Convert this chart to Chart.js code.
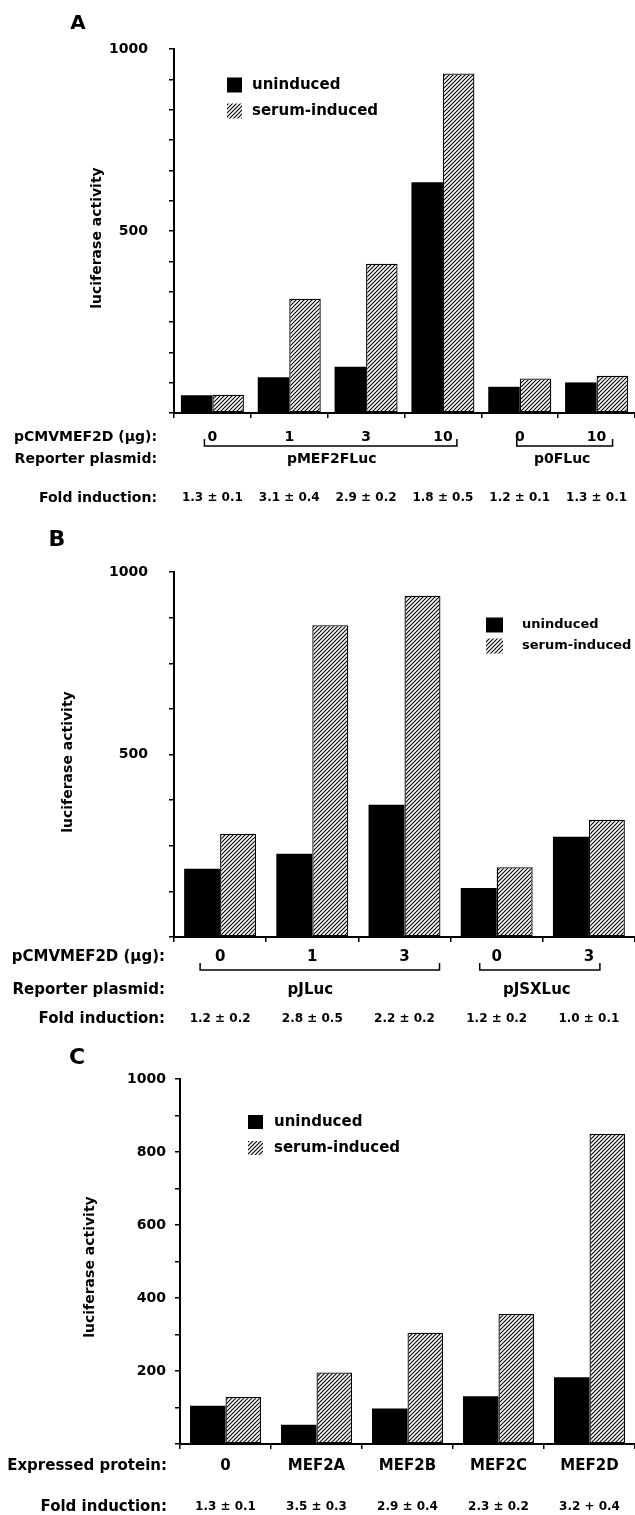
<!DOCTYPE html>
<html>
<head>
<meta charset="utf-8">
<script src="https://cdn.jsdelivr.net/npm/chart.js@4/dist/chart.umd.min.js"></script>
<style>
  body { margin: 0; background: #fff; width: 635px; height: 1515px; position: relative; overflow: hidden; }
  canvas { position: absolute; left: 0; }
</style>
</head>
<body>
<canvas id="panelA" width="635" height="520" style="top:0px"></canvas>
<canvas id="panelB" width="635" height="510" style="top:520px"></canvas>
<canvas id="panelC" width="635" height="485" style="top:1030px"></canvas>
<script>
// --- panel A: pMEF2FLuc / p0FLuc reporters
const aDoses = ['0', '1', '3', '10', '0', '10'];
const aUninduced = [49, 98, 127, 634, 72, 84];
const aSerum = [50, 314, 410, 933, 95, 102];
const aFold = ['1.3 ± 0.1', '3.1 ± 0.4', '2.9 ± 0.2', '1.8 ± 0.5', '1.2 ± 0.1', '1.3 ± 0.1'];
const aReporters = [{ name: 'pMEF2FLuc', from: 0, to: 3 }, { name: 'p0FLuc', from: 4, to: 5 }];
const aYLabels = [500, 1000];
const aYMinorCount = 12;

// --- panel B: pJLuc / pJSXLuc reporters
const bDoses = ['0', '1', '3', '0', '3'];
const bUninduced = [187, 228, 362, 134, 275];
const bSerum = [283, 854, 935, 191, 321];
const bFold = ['1.2 ± 0.2', '2.8 ± 0.5', '2.2 ± 0.2', '1.2 ± 0.2', '1.0 ± 0.1'];
const bReporters = [{ name: 'pJLuc', from: 0, to: 2 }, { name: 'pJSXLuc', from: 3, to: 4 }];
const bYLabels = [500, 1000];
const bYMinorCount = 8;

// --- panel C: MEF2 family members
const cProteins = ['0', 'MEF2A', 'MEF2B', 'MEF2C', 'MEF2D'];
const cUninduced = [105, 53, 97, 131, 183];
const cSerum = [129, 196, 305, 356, 850];
const cFold = ['1.3 ± 0.1', '3.5 ± 0.3', '2.9 ± 0.4', '2.3 ± 0.2', '3.2 + 0.4'];
const cYLabels = [200, 400, 600, 800, 1000];
const cYMinorCount = 10;

const FONT = '"DejaVu Sans", "Liberation Sans", Arial, sans-serif';
Chart.defaults.font.family = FONT;
Chart.defaults.font.weight = 'bold';
Chart.defaults.color = '#000';

function hatch(ctx) {
    const t = document.createElement('canvas');
    t.width = t.height = 4;
    const g = t.getContext('2d');
    g.fillStyle = '#fff';
    g.fillRect(0, 0, 4, 4);
    g.strokeStyle = '#000';
    g.lineWidth = 1.1;
    g.beginPath();
    g.moveTo(0, 4); g.lineTo(4, 0);
    g.moveTo(-1, 1); g.lineTo(1, -1);
    g.moveTo(3, 5); g.lineTo(5, 3);
    g.stroke();
    return ctx.createPattern(t, 'repeat');
}

// extra drawing: panel letter, axis title, legend, label rows under the axis
function extrasPlugin(p) {
    return {
        id: 'panelExtras',
        afterDraw(chart) {
            const ctx = chart.ctx;
            const xs = chart.scales.x;
            const cx = i => xs.getPixelForValue(i);
            ctx.save();
            ctx.fillStyle = '#000';
            ctx.strokeStyle = '#000';
            ctx.textBaseline = 'middle';

            ctx.textAlign = 'center';
            ctx.font = `bold ${p.letter.size}px ${FONT}`;
            ctx.fillText(p.letter.text, p.letter.x, p.letter.y);

            ctx.save();
            ctx.translate(p.title.x, p.title.y);
            ctx.rotate(-Math.PI / 2);
            ctx.font = `bold 14px ${FONT}`;
            ctx.fillText('luciferase activity', 0, 0);
            ctx.restore();

            const L = p.legend;
            chart.data.datasets.forEach((ds, k) => {
                const y = L.y + k * L.gap;
                ctx.fillStyle = ds.backgroundColor;
                ctx.fillRect(L.x, y - L.h / 2, L.w, L.h);
                ctx.fillStyle = '#000';
                ctx.textAlign = 'left';
                ctx.font = `bold ${L.size}px ${FONT}`;
                ctx.fillText(ds.label, L.tx, y);
            });

            p.rows.forEach(r => {
                ctx.font = `bold ${r.size}px ${FONT}`;
                ctx.textAlign = 'right';
                ctx.fillText(r.title, p.rowRight, r.y);
                ctx.textAlign = 'center';
                if (r.values) {
                    ctx.font = `bold ${r.valueSize || r.size}px ${FONT}`;
                    r.values.forEach((v, i) => ctx.fillText(v, cx(i), r.y));
                }
                if (r.groups) {
                    r.groups.forEach((gr, k) => {
                        const off = r.offsets[k];
                        const x0 = cx(gr.from) + off[0];
                        const x1 = cx(gr.to) + off[1];
                        ctx.lineWidth = 1.5;
                        ctx.beginPath();
                        ctx.moveTo(x0, r.bracketY - 7);
                        ctx.lineTo(x0, r.bracketY);
                        ctx.lineTo(x1, r.bracketY);
                        ctx.lineTo(x1, r.bracketY - 7);
                        ctx.stroke();
                        ctx.fillText(gr.name, (cx(gr.from) + cx(gr.to)) / 2 + (off[2] || 0), r.y);
                    });
                }
            });
            ctx.restore();
        }
    };
}

function makePanel(id, cats, unind, serum, yLabels, minorCount, p) {
    const canvas = document.getElementById(id);
    const ctx = canvas.getContext('2d');
    const step = 1000 / minorCount;
    new Chart(ctx, {
        type: 'bar',
        data: {
            labels: cats,
            datasets: [
                { label: 'uninduced', data: unind, backgroundColor: '#000', borderWidth: 0 },
                { label: 'serum-induced', data: serum, backgroundColor: hatch(ctx),
                  borderColor: '#000', borderWidth: 1.3, borderSkipped: false }
            ]
        },
        options: {
            responsive: false,
            animation: false,
            devicePixelRatio: 1,
            categoryPercentage: p.catPct,
            barPercentage: 1,
            layout: { padding: { top: p.padTop, bottom: p.padBottom, left: 0, right: 0 } },
            plugins: { legend: { display: false }, tooltip: { enabled: false } },
            scales: {
                x: {
                    afterFit: s => { s.height = 5; },
                    ticks: { display: false },
                    grid: { offset: true, drawOnChartArea: false, drawTicks: true, tickLength: 5, color: '#000', lineWidth: 1.5 },
                    border: { display: true, color: '#000', width: 2 }
                },
                y: {
                    min: 0,
                    max: 1000,
                    afterFit: s => { s.width = p.axisX; },
                    afterBuildTicks: s => {
                        const t = [];
                        for (let i = 0; i <= minorCount; i++) t.push({ value: i * step });
                        s.ticks = t;
                    },
                    ticks: {
                        autoSkip: false,
                        padding: p.tickPad,
                        font: { size: 14, weight: 'bold' },
                        color: '#000',
                        callback: v => yLabels.includes(Math.round(v)) ? String(Math.round(v)) : ''
                    },
                    grid: { drawOnChartArea: false, drawTicks: true, tickLength: 5, color: '#000', lineWidth: 1.5 },
                    border: { display: true, color: '#000', width: 2 }
                }
            }
        },
        plugins: [extrasPlugin(p)]
    });
}

makePanel('panelA', aDoses, aUninduced, aSerum, aYLabels, aYMinorCount, {
    catPct: 0.82, padTop: 49, padBottom: 102, axisX: 174, tickPad: 21,
    letter: { text: 'A', x: 78, y: 24, size: 20 },
    title: { x: 97, y: 238 },
    legend: { x: 227, w: 15, h: 15, y: 85, gap: 26, tx: 252, size: 15 },
    rowRight: 157,
    rows: [
        { title: 'pCMVMEF2D (μg):', y: 437, size: 14, values: aDoses },
        { title: 'Reporter plasmid:', y: 459, size: 14, bracketY: 446,
          groups: aReporters, offsets: [[-8, 14, 4], [-3, 16, 4]] },
        { title: 'Fold induction:', y: 498, size: 14, valueSize: 12, values: aFold }
    ]
});

makePanel('panelB', bDoses, bUninduced, bSerum, bYLabels, bYMinorCount, {
    catPct: 0.78, padTop: 52, padBottom: 88, axisX: 174, tickPad: 21,
    letter: { text: 'B', x: 57, y: 20, size: 22 },
    title: { x: 68, y: 242 },
    legend: { x: 486, w: 17, h: 15, y: 105, gap: 21, tx: 522, size: 13 },
    rowRight: 165,
    rows: [
        { title: 'pCMVMEF2D (μg):', y: 437, size: 15, values: bDoses },
        { title: 'Reporter plasmid:', y: 470, size: 15, bracketY: 450,
          groups: bReporters, offsets: [[-20, 35, -2], [-17, 11, -6]] },
        { title: 'Fold induction:', y: 499, size: 15, valueSize: 12, values: bFold }
    ]
});

makePanel('panelC', cProteins, cUninduced, cSerum, cYLabels, cYMinorCount, {
    catPct: 0.78, padTop: 49, padBottom: 66, axisX: 180, tickPad: 9,
    letter: { text: 'C', x: 77, y: 28, size: 22 },
    title: { x: 90, y: 237 },
    legend: { x: 248, w: 15, h: 14, y: 92, gap: 26, tx: 274, size: 15 },
    rowRight: 167,
    rows: [
        { title: 'Expressed protein:', y: 436, size: 15, values: cProteins },
        { title: 'Fold induction:', y: 477, size: 15, valueSize: 12, values: cFold }
    ]
});
</script>
</body>
</html>
